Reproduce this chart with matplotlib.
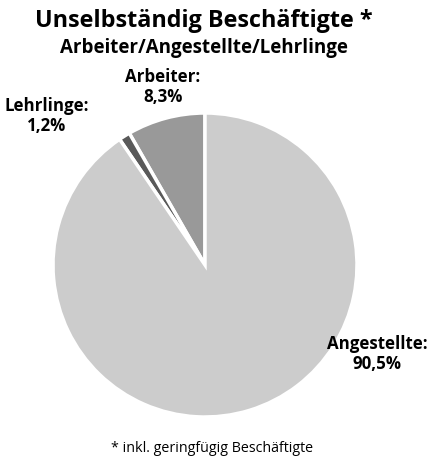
import matplotlib
matplotlib.use("Agg")
import matplotlib.pyplot as plt

categories = ["Arbeiter", "Lehrlinge", "Angestellte"]
values = [8.3, 1.2, 90.5]
value_labels = ["8,3%", "1,2%", "90,5%"]
colors = ["#999999", "#595959", "#cccccc"]

W, H = 431, 461
fig = plt.figure(figsize=(W / 100, H / 100), dpi=100)
plt.rcParams['font.family'] = ['Open Sans', 'DejaVu Sans']

cx, cy, r = 205, 265, 152
ax = fig.add_axes([(cx - r) / W, (H - cy - r) / H, 2 * r / W, 2 * r / H])
ax.pie(values, colors=colors, startangle=90, counterclock=True,
       wedgeprops=dict(edgecolor="white", linewidth=2.5))
ax.set_xlim(-1, 1)
ax.set_ylim(-1, 1)
ax.set_aspect("equal")
ax.axis("off")

fig.text(204 / W, 1 - 21 / H, "Unselbständig Beschäftigte *", ha="center", va="center",
         fontsize=16.8, fontweight="bold")
fig.text(204 / W, 1 - 48 / H, "Arbeiter/Angestellte/Lehrlinge", ha="center", va="center",
         fontsize=13.5, fontweight="bold")

label_pos = [(163, 87), (47, 116), (377, 354)]
for cat, lab, (px, py) in zip(categories, value_labels, label_pos):
    fig.text(px / W, 1 - py / H, f"{cat}:\n{lab}", ha="center", va="center",
             fontsize=12.2, fontweight="bold", linespacing=1.2)

fig.text(212 / W, 1 - 448 / H, "* inkl. geringfügig Beschäftigte", ha="center", va="center",
         fontsize=10.3)

fig.savefig("out.png", dpi=100)
